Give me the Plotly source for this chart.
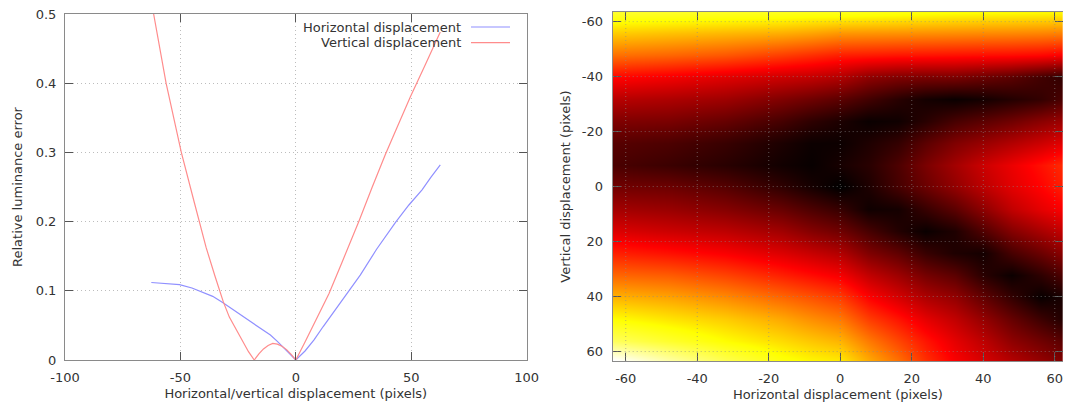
import plotly.graph_objects as go

# ---------------- data ----------------
horiz_x = [-62.6, -56, -50.4, -45, -41.7, -36, -31.7, -26, -20.2, -15, -11, -8, -5, -2.5, 0,
           4, 7.9, 11.8, 15.8, 22, 28, 35, 43.2, 49, 54.7, 58.5, 62.6]
horiz_y = [0.112, 0.1105, 0.109, 0.104, 0.100, 0.092, 0.083, 0.070, 0.056, 0.044, 0.036, 0.027,
           0.017, 0.008, 0.0, 0.013, 0.029, 0.048, 0.067, 0.095, 0.123, 0.160, 0.199, 0.224,
           0.246, 0.264, 0.282]

vert_x = [-62.6, -61.6, -56.2, -49.6, -44, -38.9, -35, -31.4, -28.8, -26, -23, -20.5, -18,
          -16, -14, -12, -10, -8, -6, -4, -2, 0, 4, 8, 14.4, 20, 27.3, 33, 38.8, 44, 49.6,
          56, 62.6]
vert_y = [0.52, 0.50, 0.40, 0.30, 0.228, 0.163, 0.121, 0.084, 0.062, 0.045, 0.026, 0.012, 0.0,
          0.009, 0.016, 0.021, 0.024, 0.023, 0.020, 0.015, 0.008, 0.0, 0.026, 0.053, 0.096,
          0.141, 0.200, 0.249, 0.297, 0.337, 0.380, 0.426, 0.474]

series_names = ["Horizontal displacement", "Vertical displacement"]

# heatmap: relative luminance error for (horizontal, vertical) displacement
map_x = [-63, -48, -32, -16, -8, 0, 8, 16, 24, 32, 40, 48, 56, 63]
map_y = [-63, -56, -48, -40, -32, -24, -16, -8, 0, 8, 16, 24, 32, 40, 48, 56, 63]
map_z = [
    [0.54, 0.535, 0.53, 0.525, 0.52, 0.52, 0.515, 0.51, 0.505, 0.5, 0.497, 0.495, 0.492, 0.49],
    [0.45, 0.44, 0.43, 0.42, 0.41, 0.397, 0.395, 0.393, 0.39, 0.388, 0.385, 0.383, 0.38, 0.375],
    [0.36, 0.35, 0.335, 0.31, 0.295, 0.279, 0.275, 0.27, 0.268, 0.265, 0.262, 0.26, 0.255, 0.245],
    [0.255, 0.24, 0.22, 0.2, 0.19, 0.174, 0.14, 0.125, 0.12, 0.12, 0.105, 0.09, 0.065, 0.045],
    [0.18, 0.17, 0.155, 0.125, 0.108, 0.09, 0.065, 0.04, 0.02, 0.01, 0.02, 0.035, 0.05, 0.075],
    [0.125, 0.12, 0.1, 0.068, 0.045, 0.028, 0.01, 0.015, 0.04, 0.07, 0.09, 0.11, 0.135, 0.155],
    [0.085, 0.075, 0.055, 0.027, 0.012, 0.012, 0.03, 0.05, 0.09, 0.125, 0.15, 0.175, 0.2, 0.225],
    [0.072, 0.058, 0.04, 0.017, 0.008, 0.023, 0.04, 0.075, 0.12, 0.16, 0.2, 0.232, 0.265, 0.295],
    [0.112, 0.107, 0.084, 0.046, 0.022, 0.0, 0.029, 0.068, 0.105, 0.143, 0.185, 0.222, 0.252, 0.283],
    [0.16, 0.15, 0.13, 0.1, 0.075, 0.053, 0.015, 0.02, 0.055, 0.09, 0.14, 0.19, 0.225, 0.25],
    [0.215, 0.2, 0.185, 0.157, 0.13, 0.109, 0.07, 0.035, 0.01, 0.03, 0.08, 0.13, 0.165, 0.195],
    [0.28, 0.265, 0.245, 0.215, 0.195, 0.174, 0.125, 0.095, 0.055, 0.03, 0.02, 0.07, 0.105, 0.14],
    [0.35, 0.34, 0.315, 0.28, 0.26, 0.24, 0.19, 0.155, 0.115, 0.09, 0.04, 0.012, 0.045, 0.08],
    [0.425, 0.41, 0.385, 0.35, 0.33, 0.308, 0.25, 0.21, 0.17, 0.145, 0.095, 0.05, 0.008, 0.025],
    [0.5, 0.475, 0.45, 0.415, 0.39, 0.368, 0.31, 0.27, 0.225, 0.19, 0.145, 0.1, 0.06, 0.03],
    [0.59, 0.545, 0.5, 0.465, 0.445, 0.426, 0.37, 0.32, 0.27, 0.225, 0.185, 0.14, 0.11, 0.085],
    [0.75, 0.66, 0.575, 0.51, 0.49, 0.477, 0.415, 0.36, 0.295, 0.245, 0.21, 0.175, 0.145, 0.12],
]

left_xticks = [-100, -50, 0, 50, 100]
left_yticks = [0, 0.1, 0.2, 0.3, 0.4, 0.5]
map_ticks = [-60, -40, -20, 0, 20, 40, 60]

# ---------------- styling ----------------
OFF = 8                      # the page body adds an 8px margin around the figure
W, H = 1071 - 2 * OFF, 412 - 2 * OFF
FONT = "DejaVu Sans"
TXT = "#333333"
BLUE = "#9090ff"
RED = "#ff8c8c"
GRID_DASH = "1px,3px"

def px(v):                   # page pixel -> paper fraction
    return (v - OFF) / W

def py(v):
    return 1 - (v - OFF) / H

fig = go.Figure()
fig.add_trace(go.Scatter(x=horiz_x, y=horiz_y, mode="lines", name=series_names[0],
                         line=dict(color=BLUE, width=1.2), xaxis="x", yaxis="y"))
fig.add_trace(go.Scatter(x=vert_x, y=vert_y, mode="lines", name=series_names[1],
                         line=dict(color=RED, width=1.2), xaxis="x", yaxis="y"))
fig.add_trace(go.Heatmap(x=map_x, y=map_y, z=map_z, zmin=0, zmax=0.75, zsmooth="best",
                         colorscale=[[0, "#000000"], [1 / 3, "#ff0000"], [2 / 3, "#ffff00"],
                                     [1, "#ffffff"]],
                         showscale=False, xaxis="x2", yaxis="y2"))

axis_common = dict(ticks="inside", mirror="allticks", showline=True, linecolor="#8a8a8a",
                   linewidth=1, tickcolor="#555555", zeroline=False, automargin=False,
                   ticklabeloverflow="allow",
                   tickfont=dict(family=FONT, size=13, color=TXT),
                   title_font=dict(family=FONT, size=13, color=TXT))

fig.update_layout(
    width=W, height=H, margin=dict(l=0, r=0, t=0, b=0),
    paper_bgcolor="white", plot_bgcolor="white", showlegend=False,
    font=dict(family=FONT, size=13, color=TXT),
    xaxis=dict(domain=[px(65), px(526.6)], range=[-100, 100], tickvals=left_xticks,
               ticktext=[str(v) for v in left_xticks], ticklen=8,
               showgrid=True, gridcolor="#bdbdbd", griddash=GRID_DASH, ticklabelstandoff=5,
               title=dict(text="Horizontal/vertical displacement (pixels)", standoff=5),
               anchor="y", **axis_common),
    yaxis=dict(domain=[py(360), py(14)], range=[0, 0.50001], tickvals=left_yticks,
               ticktext=["0", "0.1", "0.2", "0.3", "0.4", "0.5"], ticklen=8,
               showgrid=True, gridcolor="#bdbdbd", griddash=GRID_DASH, ticklabelstandoff=5,
               title=dict(text="Relative luminance error", standoff=10),
               anchor="x", **axis_common),
    xaxis2=dict(domain=[px(612.7), 1.0], range=[-63.65, 62.3], tickvals=map_ticks,
                ticktext=[str(v) for v in map_ticks], ticklen=8, showgrid=False,
                layer="above traces", ticklabelstandoff=5,
                title=dict(text="Horizontal displacement (pixels)", standoff=5),
                anchor="y2", **axis_common),
    yaxis2=dict(domain=[py(361), py(12)], range=[63.45, -63.5], tickvals=map_ticks,
                ticktext=[str(v) for v in map_ticks], ticklen=8, showgrid=False,
                layer="above traces", ticklabelstandoff=6,
                title=dict(text="Vertical displacement (pixels)", standoff=8),
                anchor="x2", **axis_common),
)

# dotted grid drawn in front of the heatmap (as gnuplot does)
for t in map_ticks:
    fig.add_shape(type="line", xref="x2", yref="y2 domain", x0=t, x1=t, y0=0, y1=1,
                  line=dict(color="rgba(140,140,140,0.6)", width=1, dash=GRID_DASH),
                  layer="above")
    fig.add_shape(type="line", xref="x2 domain", yref="y2", x0=0, x1=1, y0=t, y1=t,
                  line=dict(color="rgba(140,140,140,0.6)", width=1, dash=GRID_DASH),
                  layer="above")

# gnuplot-style key: right-aligned text followed by a line sample
key_rows = [(series_names[0], BLUE, 27), (series_names[1], RED, 42.7)]
for name, col, yy in key_rows:
    fig.add_annotation(text=name, xref="paper", yref="paper", x=px(463), y=py(yy),
                       xanchor="right", yanchor="middle", showarrow=False,
                       font=dict(family=FONT, size=13, color=TXT))
    fig.add_shape(type="line", xref="paper", yref="paper", x0=px(471), x1=px(510),
                  y0=py(yy), y1=py(yy), line=dict(color=col, width=1.2))

fig.write_html("out.html")
